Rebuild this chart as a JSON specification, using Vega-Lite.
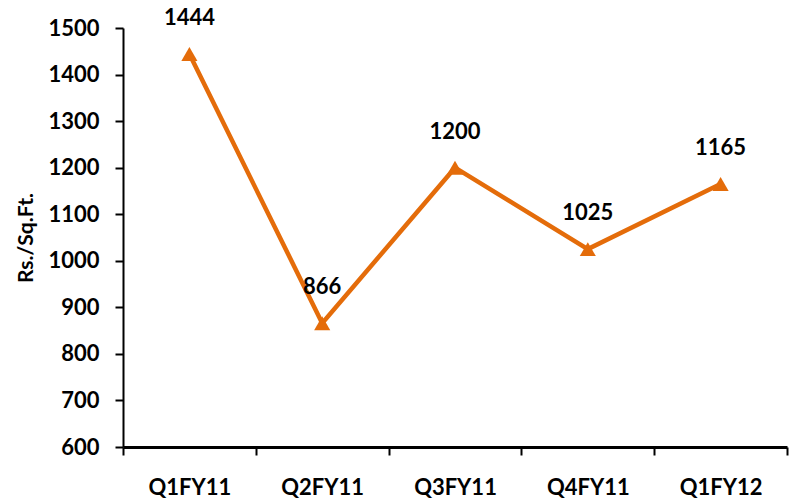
{
  "$schema": "https://vega.github.io/schema/vega-lite/v6.json",
  "width": 664,
  "height": 419,
  "autosize": "none",
  "padding": {"left": 123, "top": 28, "right": 6, "bottom": 55},
  "background": "white",
  "config": {"view": {"stroke": null}, "font": "Lato"},
  "data": {
    "values": [
      {"quarter": "Q1FY11", "value": 1444},
      {"quarter": "Q2FY11", "value": 866},
      {"quarter": "Q3FY11", "value": 1200},
      {"quarter": "Q4FY11", "value": 1025},
      {"quarter": "Q1FY12", "value": 1165}
    ]
  },
  "encoding": {
    "x": {
      "field": "quarter", "type": "nominal", "sort": null,
      "scale": {"paddingInner": 0, "paddingOuter": 0},
      "axis": {
        "title": null, "labelAngle": 0, "tickBand": "extent", "grid": false,
        "domainColor": "black", "domainWidth": 3, "tickColor": "black", "tickWidth": 2, "tickSize": 8,
        "labelFont": "Lato", "labelFontWeight": "bold", "labelFontSize": 22, "labelColor": "black",
        "labelPadding": 22
      }
    },
    "y": {
      "field": "value", "type": "quantitative",
      "scale": {"domain": [600, 1500], "nice": false, "zero": false},
      "axis": {
        "title": "Rs./Sq.Ft.", "titleFont": "Lato", "titleFontWeight": "bold", "titleFontSize": 21, "titleColor": "black",
        "titlePadding": 11, "titleLetterSpacing": 1.5,
        "values": [600, 700, 800, 900, 1000, 1100, 1200, 1300, 1400, 1500], "format": "d",
        "grid": false, "domainColor": "black", "domainWidth": 2, "tickColor": "black", "tickWidth": 2, "tickSize": 8,
        "labelFont": "Lato", "labelFontWeight": "bold", "labelFontSize": 22, "labelColor": "black", "labelPadding": 16
      }
    }
  },
  "layer": [
    {"mark": {"type": "line", "color": "#E46C0A", "strokeWidth": 4.5}},
    {"mark": {"type": "point", "shape": "triangle-up", "filled": true, "color": "#E46C0A", "size": 260, "opacity": 1}},
    {"mark": {"type": "text", "dy": -36, "baseline": "middle", "fontSize": 22, "fontWeight": "bold", "font": "Lato", "color": "black"},
     "encoding": {"text": {"field": "value", "type": "quantitative", "format": "d"}}}
  ]
}
